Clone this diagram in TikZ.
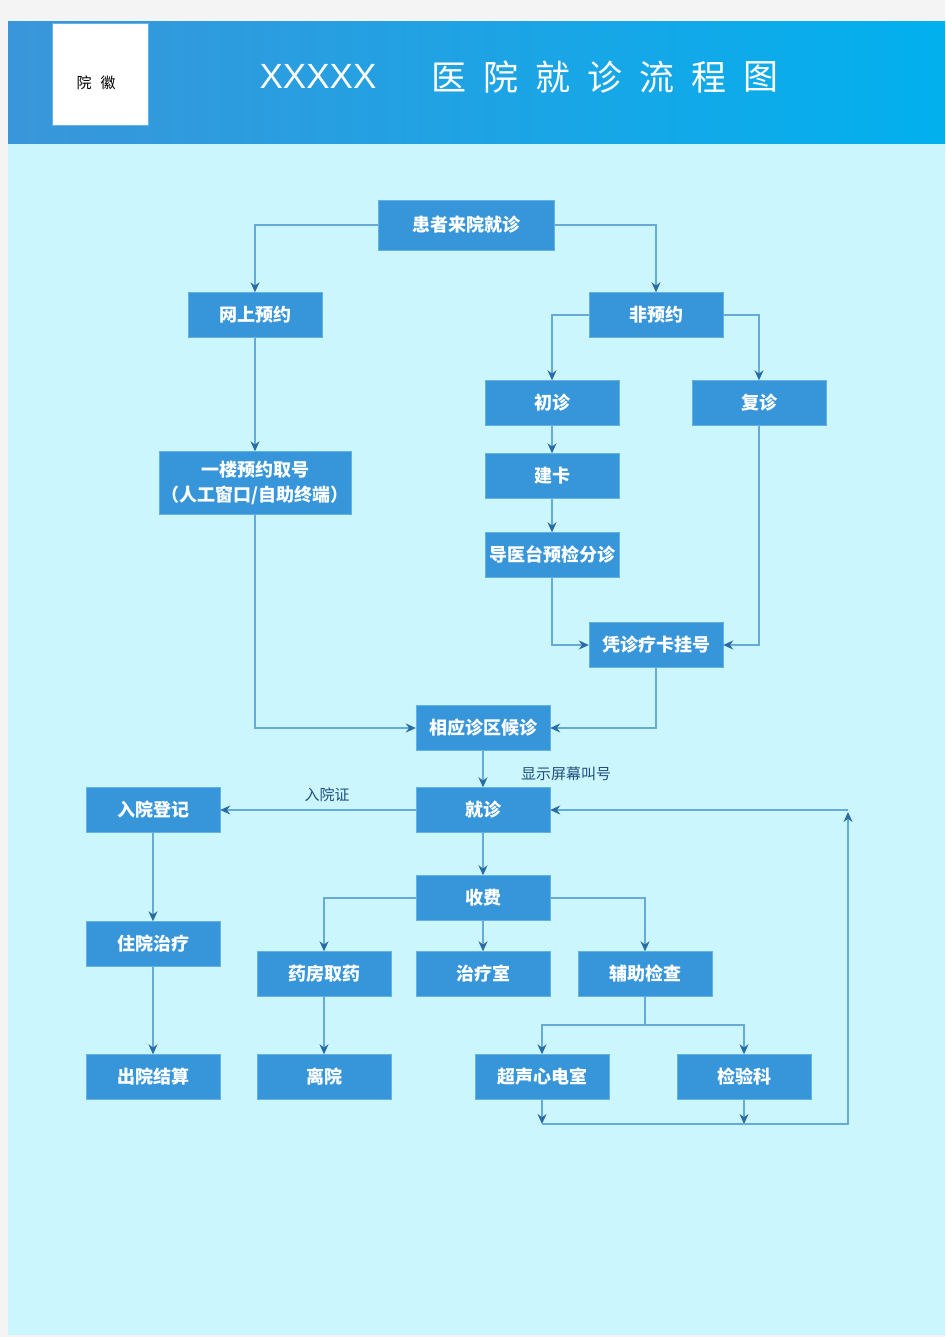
\documentclass[tikz,border=0pt]{standalone}
\usepackage{fontspec}
\usepackage{tikz}
\usetikzlibrary{arrows.meta,calc}
\newfontfamily\cjk{Noto Sans CJK SC}
\newfontfamily\titlefont{Liberation Sans}
\definecolor{Page}{RGB}{244, 244, 244}
\definecolor{Body}{RGB}{204, 246, 253}
\definecolor{HeadL}{RGB}{58, 150, 218}
\definecolor{HeadR}{RGB}{2, 176, 238}
\definecolor{Box}{RGB}{55, 150, 218}
\definecolor{BoxEdge}{RGB}{100, 178, 228}
\definecolor{Link}{RGB}{104, 170, 214}
\definecolor{Tip}{RGB}{40, 108, 165}
\definecolor{Note}{RGB}{30, 78, 125}

\begin{document}
\begin{tikzpicture}[x=1pt, y=-1pt,
    box/.style={draw=BoxEdge, fill=Box, text=white, font=\cjk\bfseries\fontsize{18}{25}\selectfont,
        minimum width=134, minimum height=45, inner sep=0pt, align=center},
    link/.style={draw=Link, line width=1.3pt, -{Stealth[length=10pt, width=9pt, color=Tip]}},
    plain/.style={draw=Link, line width=1.3pt},
    note/.style={text=Note, font=\cjk\fontsize{15}{15}\selectfont}]
    %% Background
    \fill[Page] (0,0) rectangle (945,1337);
    \fill[Body] (8,144) rectangle (945,1335);
    \shade[left color=HeadL, right color=HeadR] (8,22) rectangle (945,144);

    %% Header
    \draw[fill=white, draw=BoxEdge] (52,23) rectangle (148,125);
    \node (logo) at (96,83) {\cjk\fontsize{15}{15}\selectfont 院\hspace{9pt}徽};
    \node[text=white, font=\titlefont\fontsize{35}{35}\selectfont] (title) at (318,76) {XXXXX};
    \foreach \ch [count=\i from 0] in {医,院,就,诊,流,程,图}
        \node[text=white, font=\cjk\fontsize{35}{35}\selectfont] (t\i) at (449+52*\i,77) {\ch};

    %% Boxes
    \node[box, minimum width=176, minimum height=50] (arrive) at (466,225) {患者来院就诊};
    \node[box] (online) at (255,315) {网上预约};
    \node[box] (walkin) at (656,315) {非预约};
    \node[box] (first) at (552,403) {初诊};
    \node[box] (revisit) at (759,403) {复诊};
    \node[box, minimum width=192, minimum height=63] (ticket) at (255,483) {一楼预约取号\\（人工窗口/自助终端）};
    \node[box] (card) at (552,476) {建卡};
    \node[box] (triage) at (552,555) {导医台预检分诊};
    \node[box] (register) at (656,645) {凭诊疗卡挂号};
    \node[box] (wait) at (483,728) {相应诊区候诊};
    \node[box] (admit) at (153,810) {入院登记};
    \node[box] (visit) at (483,810) {就诊};
    \node[box] (pay) at (483,898) {收费};
    \node[box] (ward) at (153,944) {住院治疗};
    \node[box] (pharmacy) at (324,974) {药房取药};
    \node[box] (treat) at (483,974) {治疗室};
    \node[box] (aux) at (645,974) {辅助检查};
    \node[box] (discharge) at (153,1077) {出院结算};
    \node[box] (leave) at (324,1077) {离院};
    \node[box] (echo) at (542,1077) {超声心电室};
    \node[box] (lab) at (744,1077) {检验科};

    %% Connectors
    \draw[link] (arrive.west) -| (online.north);
    \draw[link] (arrive.east) -| (walkin.north);
    \draw[link] (walkin.west) -| (first.north);
    \draw[link] (walkin.east) -| (revisit.north);
    \draw[link] (online) -- (ticket);
    \draw[link] (first) -- (card);
    \draw[link] (card) -- (triage);
    \draw[link] (triage.south) |- (register.west);
    \draw[link] (revisit.south) |- (register.east);
    \draw[link] (ticket.south) |- (wait.west);
    \draw[link] (register.south) |- (wait.east);
    \draw[link] (wait) -- (visit);
    \draw[link] (visit) -- (admit);
    \draw[link] (visit) -- (pay);
    \draw[link] (admit) -- (ward);
    \draw[link] (ward) -- (discharge);
    \draw[link] (pay.west) -| (pharmacy.north);
    \draw[link] (pay) -- (treat);
    \draw[link] (pay.east) -| (aux.north);
    \draw[link] (pharmacy) -- (leave);

    \coordinate (split) at (645,1025);
    \draw[plain] (aux.south) -- (split);
    \draw[link] (split) -| (echo.north);
    \draw[link] (split) -| (lab.north);

    %% Back to the doctor
    \coordinate (echoend) at (542,1124);
    \coordinate (labend) at (744,1124);
    \coordinate (corner) at (848,1124);
    \coordinate (top) at (848,810);
    \draw[link] (echo.south) -- (echoend);
    \draw[link] (lab.south) -- (labend);
    \draw[link] (echoend) -- (corner) -- ($(top)+(0,2)$);
    \draw[link] (top) -- (visit.east);

    %% Labels
    \node[note] (screen) at (566,774) {显示屏幕叫号};
    \node[note] (permit) at (327,795) {入院证};
\end{tikzpicture}
\end{document}
